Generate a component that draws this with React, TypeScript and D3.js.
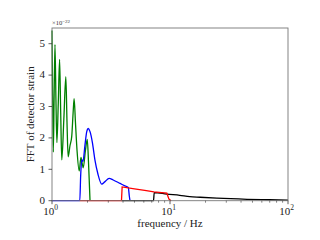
import * as d3 from "d3";

const W = 320;
const H = 240;
const M = { left: 52, right: 32, top: 28, bottom: 39.3 };

// [frequency Hz, FFT amplitude in units of 1e-22]
const greenSeries: [number, number][] = [
  [1.0, 5.42], [1.013, 3.2], [1.026, 1.55], [1.043, 3.4], [1.06, 4.97],
  [1.08, 3.2], [1.1, 1.85], [1.13, 3.1], [1.16, 4.5], [1.185, 2.8],
  [1.21, 1.3], [1.26, 2.6], [1.31, 3.95], [1.34, 2.5], [1.37, 1.4],
  [1.42, 1.75], [1.47, 2.05], [1.51, 2.8], [1.54, 3.25], [1.58, 2.5],
  [1.63, 1.6], [1.7, 0.95], [1.76, 1.38], [1.8, 1.2], [1.84, 1.05],
  [1.92, 1.6], [1.99, 1.95], [2.04, 1.2], [2.08, 0.4], [2.1, 0.0],
];

const blueSeries: [number, number][] = [
  [1.0, 0], [1.72, 0], [1.75, 0.8], [1.79, 1.3], [1.83, 1.25],
  [1.9, 1.75], [1.97, 2.2], [2.03, 2.3], [2.1, 2.2], [2.2, 1.85],
  [2.31, 1.3], [2.45, 0.85], [2.64, 0.53], [2.8, 0.6], [3.05, 0.71],
  [3.3, 0.66], [3.77, 0.55], [4.1, 0.48], [4.43, 0.42], [4.52, 0.15], [4.58, 0],
];

const redSeries: [number, number][] = [
  [1.72, 0], [3.88, 0], [3.93, 0.44], [5.0, 0.38], [6.3, 0.32],
  [7.3, 0.28], [9.4, 0.24], [9.8, 0.05], [10.2, 0],
];

const blackSeries: [number, number][] = [
  [3.9, 0], [7.25, 0], [7.35, 0.26], [9.4, 0.21], [12.1, 0.17],
  [14.7, 0.13], [18, 0.11], [25, 0.08], [45, 0.045], [70, 0.03], [100, 0.02],
];

const xTicks = [1, 10, 100];
const xTickExp = ["0", "1", "2"];
const yTicks = [0, 1, 2, 3, 4, 5];

const FONT = "'Liberation Serif', 'DejaVu Serif', serif";

export default function App() {
  const x = d3.scaleLog().domain([1, 100]).range([M.left, W - M.right]);
  const y = d3.scaleLinear().domain([0, 5.5]).range([H - M.bottom, M.top]);

  const minorTicks: number[] = [];
  [1, 10].forEach((d) => {
    for (let k = 2; k <= 9; k++) minorTicks.push(d * k);
  });

  const line = (curve: d3.CurveFactory) =>
    d3
      .line<[number, number]>()
      .x((d) => x(d[0]))
      .y((d) => y(d[1]))
      .curve(curve);

  const smooth = line(d3.curveMonotoneX);
  const straight = line(d3.curveLinear);

  const x0 = M.left;
  const x1 = W - M.right;
  const y0 = H - M.bottom;
  const y1 = M.top;

  return (
    <svg
      width={W}
      height={H}
      style={{ position: "fixed", left: 0, top: 0, background: "#fff" }}
    >
      <path d={smooth(greenSeries) || undefined} fill="none" stroke="#008000" strokeWidth={1.3} />
      <path d={smooth(blueSeries) || undefined} fill="none" stroke="#0000ff" strokeWidth={1.3} />
      <path d={smooth(blackSeries) || undefined} fill="none" stroke="#000" strokeWidth={1.3} />
      <path d={straight(redSeries) || undefined} fill="none" stroke="#ff0000" strokeWidth={1.3} />

      {/* frame */}
      <rect x={x0} y={y1} width={x1 - x0} height={y0 - y1} fill="none" stroke="#777" strokeWidth={0.9} />

      {/* x ticks */}
      {xTicks.map((t, i) => (
        <g key={"xt" + t}>
          <line x1={x(t)} x2={x(t)} y1={y0} y2={y0 + 3.5} stroke="#333" strokeWidth={0.8} />
          <text x={x(t) - 1.5} y={y0 + 14} textAnchor="middle" fontFamily={FONT} fontSize={11} fill="#222">
            10
            <tspan dy={-4.5} fontSize={7.5}>{xTickExp[i]}</tspan>
          </text>
        </g>
      ))}
      {minorTicks.map((t) => (
        <line key={"mt" + t} x1={x(t)} x2={x(t)} y1={y0} y2={y0 + 2} stroke="#333" strokeWidth={0.6} />
      ))}

      {/* y ticks */}
      {yTicks.map((t) => (
        <g key={"yt" + t}>
          <line x1={x0 - 3.5} x2={x0} y1={y(t)} y2={y(t)} stroke="#333" strokeWidth={0.8} />
          <text x={x0 - 7} y={y(t) + 3.3} textAnchor="end" fontFamily={FONT} fontSize={11} fill="#222">
            {t}
          </text>
        </g>
      ))}

      {/* offset text */}
      <text x={x0} y={y1 - 3} fontFamily={FONT} fontSize={6.5} fill="#333">
        ×10
        <tspan dy={-2.5} fontSize={5}>−22</tspan>
      </text>

      {/* axis labels */}
      <text x={(x0 + x1) / 2} y={227} textAnchor="middle" fontFamily={FONT} fontSize={11} fill="#222">
        frequency / Hz
      </text>
      <text
        transform={`translate(${34},${(y0 + y1) / 2}) rotate(-90)`}
        textAnchor="middle"
        fontFamily={FONT}
        fontSize={11}
        fill="#222"
      >
        FFT of detector strain
      </text>
    </svg>
  );
}
